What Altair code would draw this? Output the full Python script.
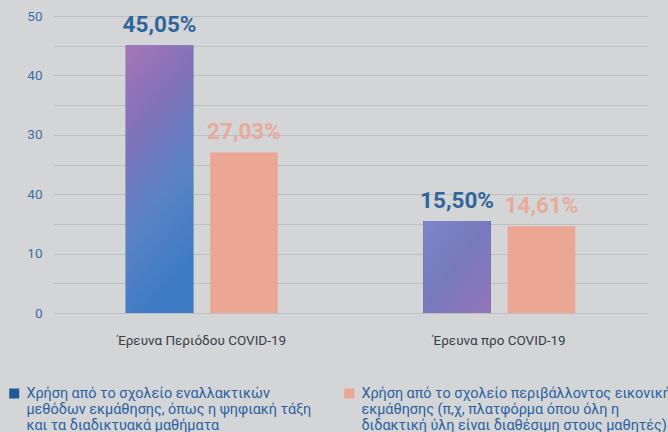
import altair as alt
import pandas as pd

categories = ["Έρευνα Περιόδου COVID-19", "Έρευνα προ COVID-19"]
series = [
    "Χρήση από το σχολείο εναλλακτικών|μεθόδων εκμάθησης, όπως η ψηφιακή τάξη|και τα διαδικτυακά μαθήματα",
    "Χρήση από το σχολείο περιβάλλοντος εικονικής|εκμάθησης (π,χ, πλατφόρμα όπου όλη η|διδακτική ύλη είναι διαθέσιμη στους μαθητές)",
]
values_s1 = [45.05, 15.50]
values_s2 = [27.03, 14.61]
series_colors = ["#1d5a96", "#eba794"]
y_ticks = [0, 5, 10, 15, 20, 25, 30, 35, 40, 45, 50]

rows = []
for i, c in enumerate(categories):
    for s, vals in zip(series, [values_s1, values_s2]):
        v = vals[i]
        rows.append({"cat": c, "series": s, "value": v,
                     "label": f"{v:.2f}".replace(".", ",") + "%"})
df = pd.DataFrame(rows)

FONT = "Roboto"

x = alt.X("cat:N", sort=categories, title=None,
          scale=alt.Scale(paddingInner=0.489, paddingOuter=0.2445),
          axis=alt.Axis(labelAngle=0, ticks=False, domain=False, labelPadding=20,
                        labelColor="#3a4048", labelFontSize=13.5, labelFont=FONT))
xo = alt.XOffset("series:N", sort=series,
                 scale=alt.Scale(paddingInner=0.2, paddingOuter=0))
y = alt.Y("value:Q", title=None,
          scale=alt.Scale(domain=[0, 50], nice=False),
          axis=alt.Axis(values=y_ticks, grid=True, gridColor="#bdbfc2", gridWidth=1.2,
                        ticks=False, domain=False, labelPadding=11,
                        labelColor="#3d6fa6", labelFontSize=13.5, labelFont=FONT,
                        labelExpr="datum.value % 10 ? '' : (datum.value == 20 ? '40' : datum.label)"))
color = alt.Color("series:N", sort=series,
                  scale=alt.Scale(domain=series, range=series_colors),
                  legend=alt.Legend(title=None, orient="none", legendX=-46, legendY=370,
                                    direction="horizontal", columns=2, columnPadding=30,
                                    symbolType="square", symbolSize=100, symbolStrokeWidth=0,
                                    labelFontSize=14.4, labelFont=FONT, labelColor="#2b62a0",
                                    labelLimit=400, labelOffset=5,
                                    labelExpr="split(datum.label, '|')"))

base = alt.Chart(df)

bars = base.mark_bar().encode(x=x, xOffset=xo, y=y, color=color)

grad_big = alt.Gradient(gradient="linear", x1=0, y1=0, x2=0.3, y2=1, stops=[
    alt.GradientStop(color="#a874b7", offset=0),
    alt.GradientStop(color="#7f72b9", offset=0.35),
    alt.GradientStop(color="#5c83c6", offset=0.65),
    alt.GradientStop(color="#3e7bc4", offset=1)])
grad_small = alt.Gradient(gradient="linear", x1=0, y1=0, x2=1, y2=1, stops=[
    alt.GradientStop(color="#7a86c8", offset=0),
    alt.GradientStop(color="#7879bd", offset=0.5),
    alt.GradientStop(color="#9476b8", offset=1)])

over_big = base.transform_filter(
    (alt.datum.series == series[0]) & (alt.datum.cat == categories[0])
).mark_bar(fill=grad_big).encode(x=x, xOffset=xo, y=y)
over_small = base.transform_filter(
    (alt.datum.series == series[0]) & (alt.datum.cat == categories[1])
).mark_bar(fill=grad_small).encode(x=x, xOffset=xo, y=y)

text = base.mark_text(dy=-13, baseline="alphabetic", fontSize=22.5, fontWeight="bold",
                      font=FONT, opacity=0.9).encode(
    x=x, xOffset=xo, y=y, text="label:N",
    color=alt.Color("series:N", sort=series,
                    scale=alt.Scale(domain=series, range=series_colors), legend=None))

chart = alt.layer(bars, over_big, over_small, text).properties(
    width=595, height=297,
    autosize=alt.AutoSizeParams(type="none"),
    padding={"left": 53, "top": 16, "right": 20, "bottom": 119},
    background="#d3d5d7",
).configure_view(stroke=None)

chart.save("out.html", embed_options={"renderer": "svg", "actions": False})
